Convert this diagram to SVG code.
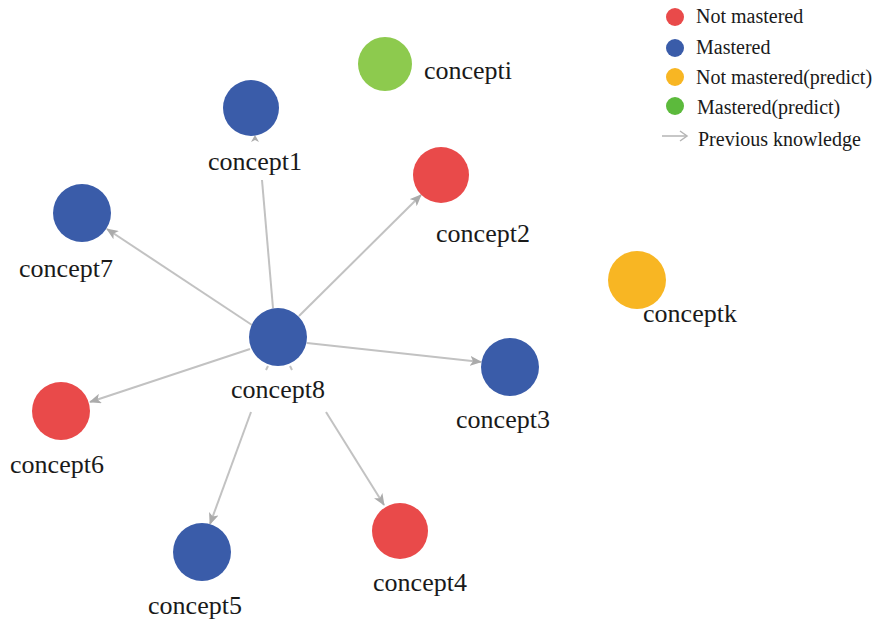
<svg xmlns="http://www.w3.org/2000/svg" width="882" height="624" viewBox="0 0 882 624">
  <defs>
    <marker id="arrow" viewBox="0 0 12 10" refX="11" refY="5" markerWidth="12" markerHeight="10" markerUnits="userSpaceOnUse" orient="auto">
      <path d="M0,0 L12,5 L0,10 L3,5 z" fill="#ababab"/>
    </marker>
  </defs>
  <style>
    .edge { stroke: #c2c2c2; stroke-width: 2; fill: none; }
    .red { fill: #e94a4a; }
    .blue { fill: #3a5ca9; }
    .yellow { fill: #f8b623; }
    .green { fill: #8dca4e; }
    .lgreen { fill: #5cba3c; }
  </style>
  <rect width="882" height="624" fill="#ffffff"/>

  <!-- prerequisite links, all leaving concept8 -->
  <g id="edges">
    <line class="edge" x1="273" y1="308" x2="262" y2="180"/>
    <path d="M255,135 L259,142 L255,140 L251,142 z" fill="#ababab"/>
    <line class="edge" x1="299" y1="316" x2="421" y2="195" marker-end="url(#arrow)"/>
    <line class="edge" x1="252" y1="325" x2="107" y2="229" marker-end="url(#arrow)"/>
    <line class="edge" x1="307" y1="343" x2="481" y2="362" marker-end="url(#arrow)"/>
    <line class="edge" x1="250" y1="349" x2="90" y2="402" marker-end="url(#arrow)"/>
    <line class="edge" x1="251" y1="412" x2="210" y2="524" marker-end="url(#arrow)"/>
    <line class="edge" x1="326" y1="412" x2="384" y2="505" marker-end="url(#arrow)"/>
    <path d="M268,366 l-2,4 M290,366 l2,4" stroke="#c2c2c2" stroke-width="2"/>
  </g>

  <g font-family="Liberation Serif, Times New Roman, serif" font-size="26" fill="#1a1a1a" text-anchor="middle">
    <g id="concept1"><circle class="blue" cx="251" cy="108" r="28"/><text x="255" y="170">concept1</text></g>
    <g id="concepti"><circle class="green" cx="385" cy="64" r="27"/><text x="468" y="79">concepti</text></g>
    <g id="concept2"><circle class="red" cx="441" cy="175" r="28"/><text x="483" y="242">concept2</text></g>
    <g id="concept7"><circle class="blue" cx="82" cy="213" r="29"/><text x="66" y="277">concept7</text></g>
    <g id="concept8"><circle class="blue" cx="278" cy="337" r="29"/><text x="278" y="398">concept8</text></g>
    <g id="conceptk"><circle class="yellow" cx="637" cy="280" r="29"/><text x="690" y="322">conceptk</text></g>
    <g id="concept3"><circle class="blue" cx="510" cy="367" r="29"/><text x="503" y="428">concept3</text></g>
    <g id="concept6"><circle class="red" cx="61" cy="411" r="29"/><text x="57" y="473">concept6</text></g>
    <g id="concept5"><circle class="blue" cx="202" cy="552" r="29"/><text x="195" y="614">concept5</text></g>
    <g id="concept4"><circle class="red" cx="400" cy="531" r="28"/><text x="420" y="591">concept4</text></g>
  </g>

  <g id="legend" font-family="Liberation Serif, Times New Roman, serif" font-size="20" fill="#1a1a1a">
    <circle class="red" cx="675" cy="17" r="9"/><text x="696" y="23">Not mastered</text>
    <circle class="blue" cx="675" cy="48" r="9"/><text x="696" y="54">Mastered</text>
    <circle class="yellow" cx="675" cy="77" r="9"/><text x="696" y="84">Not mastered(predict)</text>
    <circle class="lgreen" cx="675" cy="106" r="9"/><text x="697" y="114">Mastered(predict)</text>
    <line x1="662" y1="136" x2="687" y2="136" stroke="#b5b5b5" stroke-width="1.5"/>
    <path d="M680,131 L687,136 L680,141" stroke="#b5b5b5" stroke-width="1.5" fill="none"/>
    <text x="698" y="146">Previous knowledge</text>
  </g>
</svg>
